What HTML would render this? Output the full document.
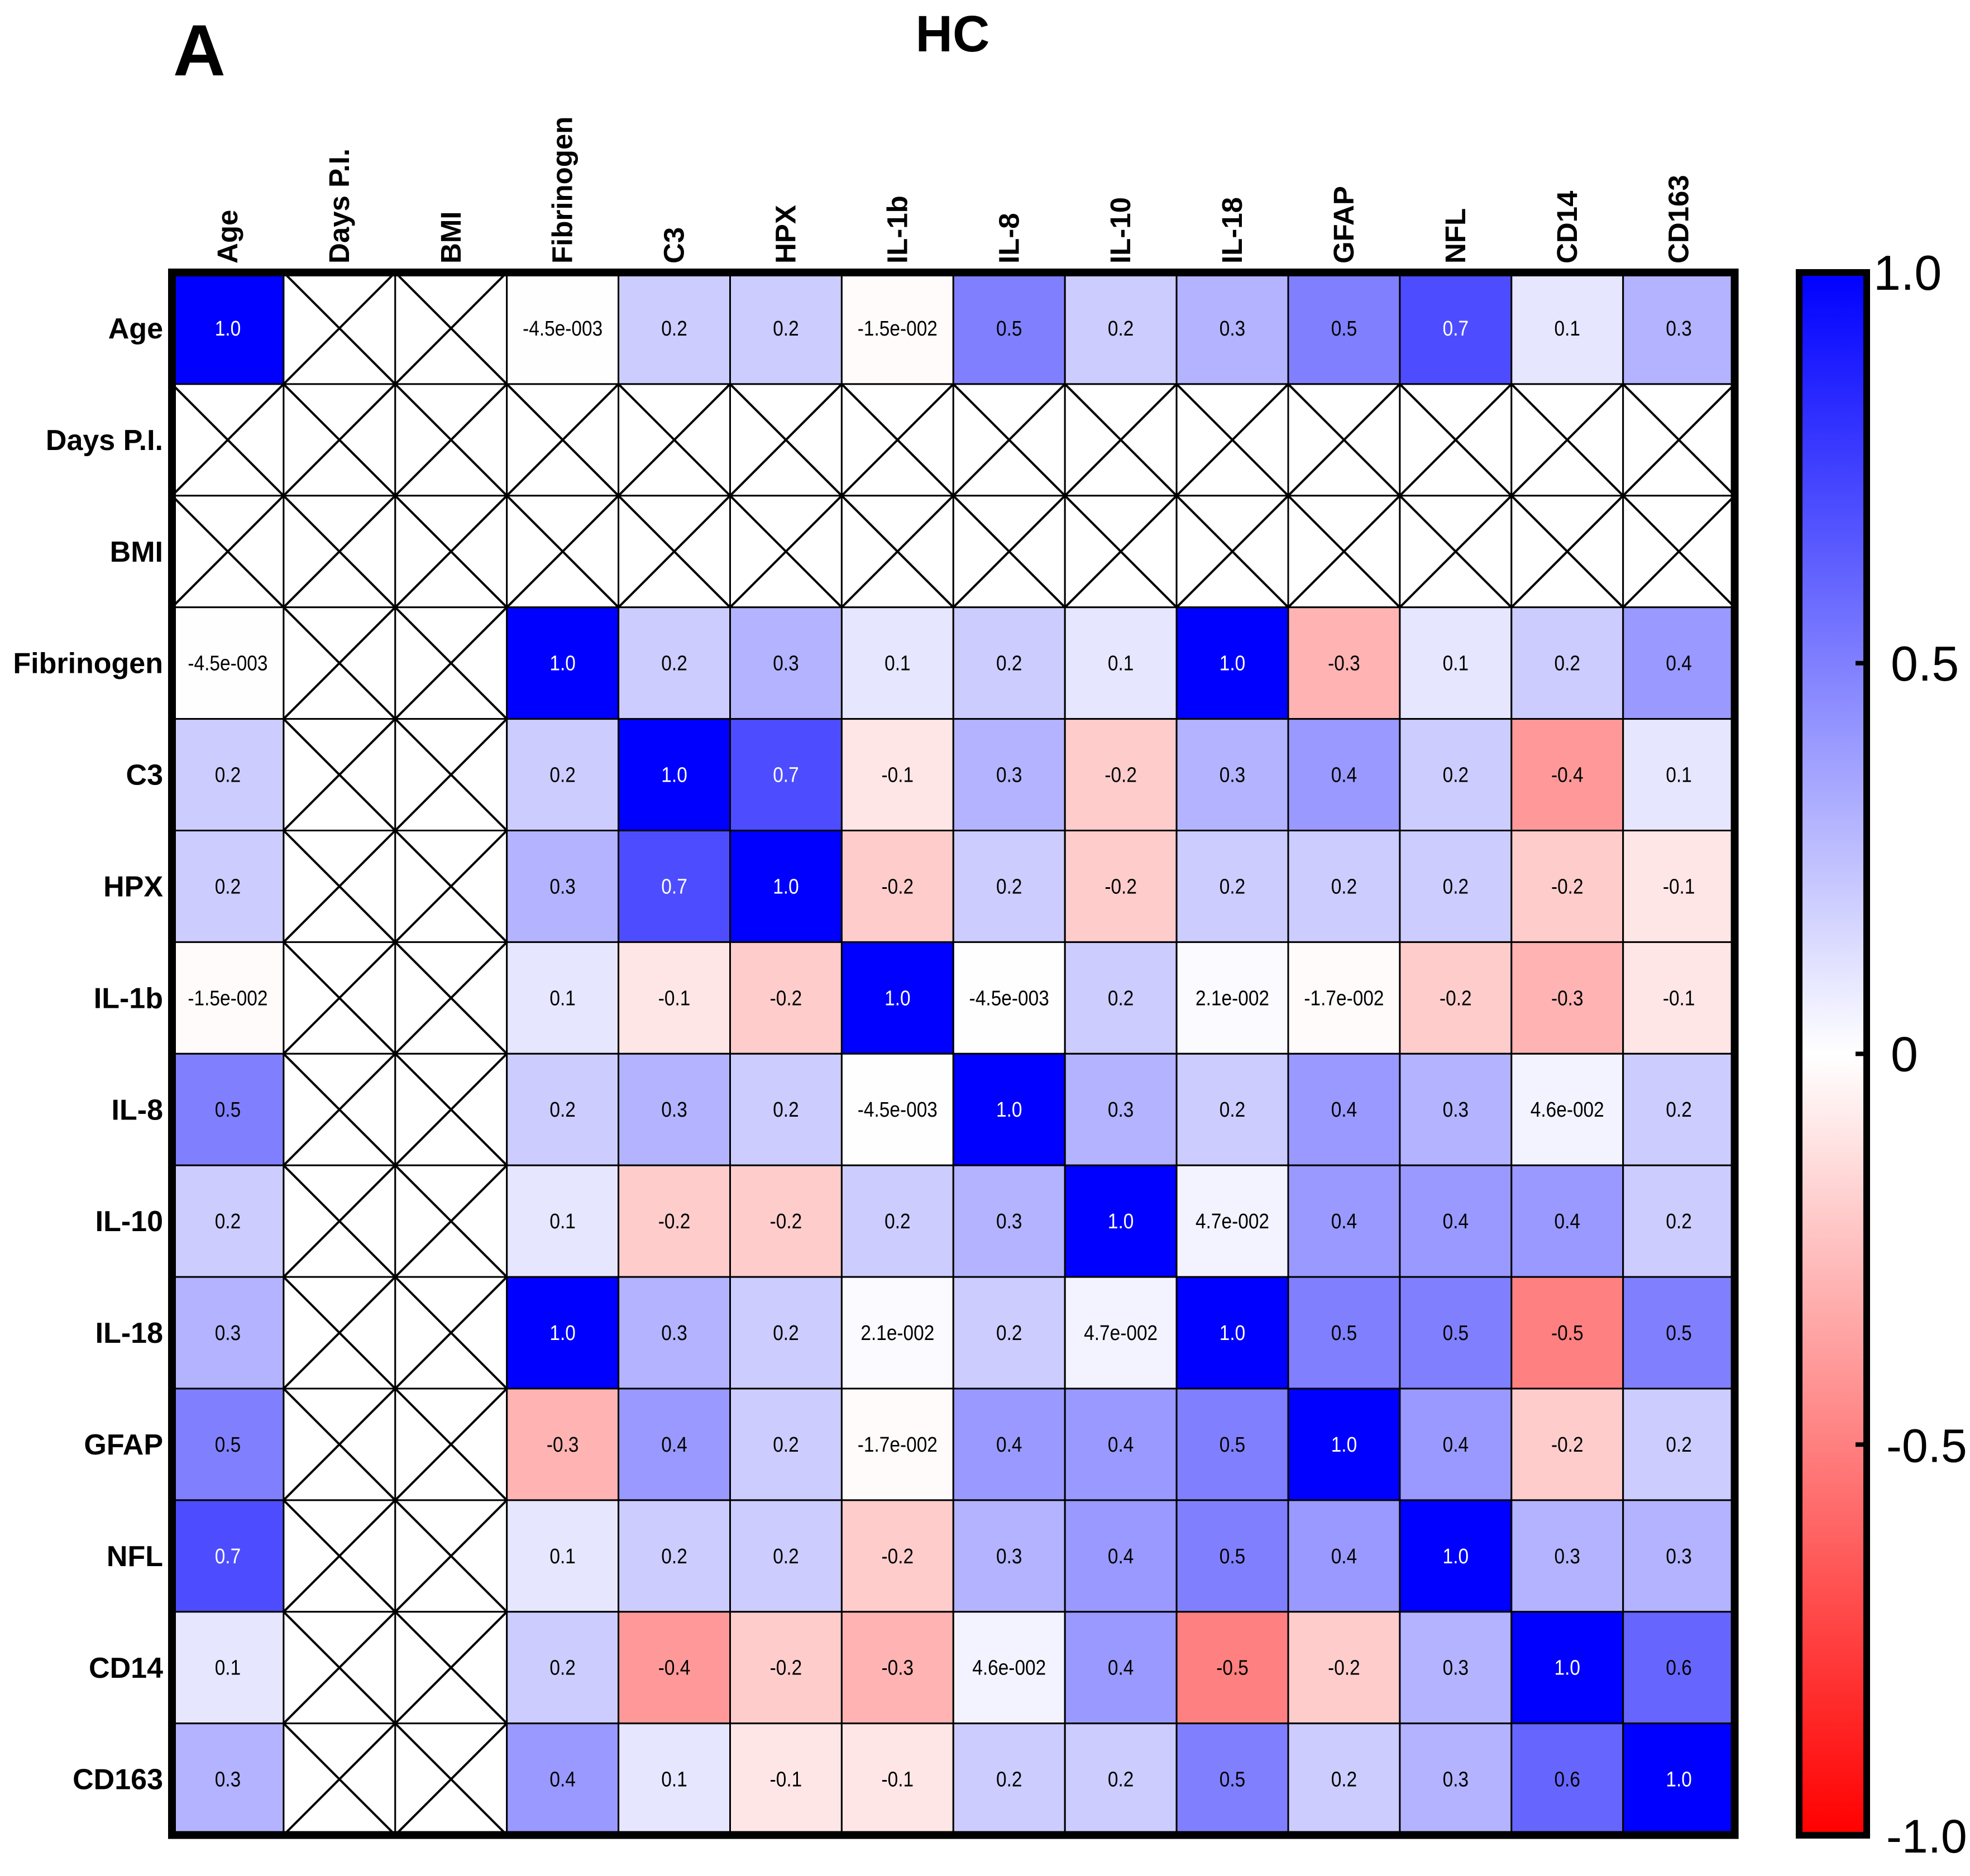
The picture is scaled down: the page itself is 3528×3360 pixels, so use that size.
<!DOCTYPE html>
<html><head><meta charset="utf-8"><style>
html,body{margin:0;padding:0;background:#fff;}
svg{display:block;font-family:"Liberation Sans",Arial,sans-serif;}
</style></head><body>
<svg id="chart" width="3528" height="3360" viewBox="0 0 3528 3360" xmlns="http://www.w3.org/2000/svg">
<rect width="3528" height="3360" fill="#fff"/>
<text x="310" y="135" font-size="130" font-weight="bold">A</text>
<text x="1706" y="92" font-size="92" font-weight="bold" text-anchor="middle">HC</text>
<g id="cells"></g>
<g id="labels"></g>
<defs><linearGradient id="cbgrad" x1="0" y1="0" x2="0" y2="1">
<stop offset="0" stop-color="#0000ff"/><stop offset="0.5" stop-color="#ffffff"/><stop offset="1" stop-color="#ff0000"/></linearGradient></defs>
<g id="colorbar"></g>
</svg>
<script>
const labels = ["Age","Days P.I.","BMI","Fibrinogen","C3","HPX","IL-1b","IL-8","IL-10","IL-18","GFAP","NFL","CD14","CD163"];
const N = null;
const rowAge   = [1.0,N,N,-0.0045,0.2,0.2,-0.015,0.5,0.2,0.3,0.5,0.7,0.1,0.3];
const rowDays  = [N,N,N,N,N,N,N,N,N,N,N,N,N,N];
const rowBMI   = [N,N,N,N,N,N,N,N,N,N,N,N,N,N];
const rowFib   = [-0.0045,N,N,1.0,0.2,0.3,0.1,0.2,0.1,1.0,-0.3,0.1,0.2,0.4];
const rowC3    = [0.2,N,N,0.2,1.0,0.7,-0.1,0.3,-0.2,0.3,0.4,0.2,-0.4,0.1];
const rowHPX   = [0.2,N,N,0.3,0.7,1.0,-0.2,0.2,-0.2,0.2,0.2,0.2,-0.2,-0.1];
const rowIL1b  = [-0.015,N,N,0.1,-0.1,-0.2,1.0,-0.0045,0.2,0.021,-0.017,-0.2,-0.3,-0.1];
const rowIL8   = [0.5,N,N,0.2,0.3,0.2,-0.0045,1.0,0.3,0.2,0.4,0.3,0.046,0.2];
const rowIL10  = [0.2,N,N,0.1,-0.2,-0.2,0.2,0.3,1.0,0.047,0.4,0.4,0.4,0.2];
const rowIL18  = [0.3,N,N,1.0,0.3,0.2,0.021,0.2,0.047,1.0,0.5,0.5,-0.5,0.5];
const rowGFAP  = [0.5,N,N,-0.3,0.4,0.2,-0.017,0.4,0.4,0.5,1.0,0.4,-0.2,0.2];
const rowNFL   = [0.7,N,N,0.1,0.2,0.2,-0.2,0.3,0.4,0.5,0.4,1.0,0.3,0.3];
const rowCD14  = [0.1,N,N,0.2,-0.4,-0.2,-0.3,0.046,0.4,-0.5,-0.2,0.3,1.0,0.6];
const rowCD163 = [0.3,N,N,0.4,0.1,-0.1,-0.1,0.2,0.2,0.5,0.2,0.3,0.6,1.0];
const matrix = [rowAge,rowDays,rowBMI,rowFib,rowC3,rowHPX,rowIL1b,rowIL8,rowIL10,rowIL18,rowGFAP,rowNFL,rowCD14,rowCD163];
const cbTicks = [1.0,0.5,0,-0.5,-1.0];
const cbTickLabels = ["1.0","0.5","0","-0.5","-1.0"];

const NS="http://www.w3.org/2000/svg";
const X0=308, Y0=488, CELL=199.9, n=labels.length;
const xPos=i=>X0+i*CELL, yPos=i=>Y0+i*CELL;
const CB_X=3222, CB_W=121, CB_TOP=488, CB_BOT=3287;
const cbY=v=>CB_TOP+(1-v)/2*(CB_BOT-CB_TOP);
function mk(tag,attrs,parent){const e=document.createElementNS(NS,tag);for(const k in attrs)e.setAttribute(k,attrs[k]);parent.appendChild(e);return e;}
function color(v){if(v>=0){const c=Math.round(255*(1-v));return `rgb(${c},${c},255)`;}const c=Math.round(255*(1+v));return `rgb(255,${c},${c})`;}
function fmt(v){if(v!==0&&Math.abs(v)<0.05){let s=v.toExponential(1);const m=s.match(/^(-?[\d.]+)e([+-])(\d+)$/);return m[1]+"e"+(m[2]==="-"?"-":"+")+m[3].padStart(3,"0");}return v.toFixed(1);}

const cells=document.getElementById('cells');
for(let r=0;r<n;r++){for(let c=0;c<n;c++){
  const v=matrix[r][c];const x=xPos(c),y=yPos(r);
  const g=mk('g',{},cells);
  
  
  if(v===null){
    mk('rect',{x:x,y:y,width:CELL,height:CELL,fill:'#fff',stroke:'#000','stroke-width':3},g);
    mk('line',{x1:x,y1:y,x2:x+CELL,y2:y+CELL,stroke:'#000','stroke-width':4},g);
    mk('line',{x1:x+CELL,y1:y,x2:x,y2:y+CELL,stroke:'#000','stroke-width':4},g);
  } else {
    mk('rect',{x:x,y:y,width:CELL,height:CELL,fill:color(v),stroke:'#000','stroke-width':3},g);
    const t=mk('text',{x:x+CELL/2,y:y+CELL/2+13,'font-size':38,'text-anchor':'middle',fill:(v>=0.65?'#fff':'#000'),transform:`translate(${x+CELL/2},0) scale(0.88,1) translate(${-(x+CELL/2)},0)`},g);
    t.textContent=fmt(v);
  }
}}
const frame=mk('rect',{x:X0,y:Y0,width:CELL*n,height:CELL*n,fill:'none',stroke:'#000','stroke-width':14},cells);



const lab=document.getElementById('labels');
for(let i=0;i<n;i++){
  const t=mk('text',{x:292,y:yPos(i)+CELL/2+18,'font-size':52,'font-weight':'bold','text-anchor':'end'},lab);
  
  
  t.textContent=labels[i];
  const cx=xPos(i)+CELL/2+17;
  const u=mk('text',{x:cx,y:472,'font-size':51,'font-weight':'bold','text-anchor':'start',transform:`rotate(-90 ${cx} 472)`},lab);
  
  
  u.textContent=labels[i];
}

const cb=document.getElementById('colorbar');
const bar=mk('rect',{x:CB_X,y:CB_TOP,width:CB_W,height:CB_BOT-CB_TOP,fill:'url(#cbgrad)',stroke:'#000','stroke-width':12},cb);


for(let i=0;i<cbTicks.length;i++){
  const y=cbY(cbTicks[i]);
  if(i>0&&i<cbTicks.length-1){
    const tk=mk('line',{x1:CB_X+CB_W-20,y1:y,x2:CB_X+CB_W,y2:y,stroke:'#000','stroke-width':8},cb);
    
    
  }
  const neg=cbTickLabels[i].startsWith('-');
  const lx=neg?3378:(cbTickLabels[i]==="1.0"?3355:3386);
  const t=mk('text',{x:lx,y:y+31,'font-size':neg?84:88},cb);
  
  
  t.textContent=cbTickLabels[i];
}
</script>
</body></html>
